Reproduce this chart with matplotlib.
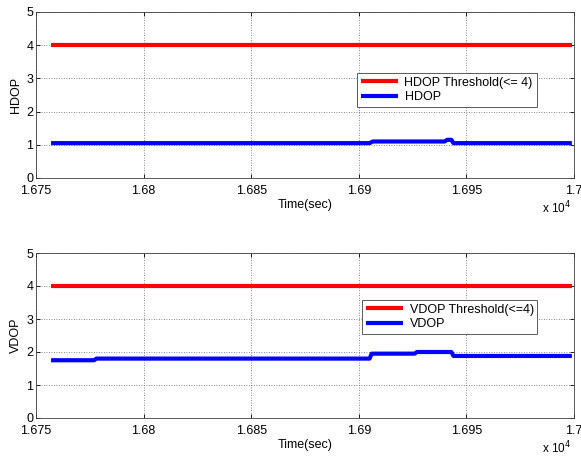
import matplotlib.pyplot as plt
from matplotlib.ticker import FixedLocator

plt.rcParams['font.family'] = ['Liberation Sans', 'DejaVu Sans']

# ── Data ──────────────────────────────────────────────────────────────────────
t_hdop = [16757, 16905, 16906.5, 16940, 16941, 16943, 16944, 16999]
hdop = [1.05, 1.05, 1.10, 1.10, 1.15, 1.15, 1.05, 1.05]

t_vdop = [16757, 16777, 16778, 16905, 16906, 16926, 16927, 16943, 16944, 16999]
vdop = [1.75, 1.75, 1.80, 1.80, 1.95, 1.95, 2.00, 2.00, 1.88, 1.88]

t_thr = [16757, 16999]
thr = [4, 4]

xticks = [16750, 16800, 16850, 16900, 16950, 17000]
xticklabels = ["1.675", "1.68", "1.685", "1.69", "1.695", "1.7"]
yticks = [0, 1, 2, 3, 4, 5]

panels = [
    ("HDOP", t_hdop, hdop, "HDOP Threshold(<= 4)", "HDOP"),
    ("VDOP", t_vdop, vdop, "VDOP Threshold(<=4)", "VDOP"),
]

fig = plt.figure(figsize=(5.81, 4.58), dpi=100)
W, H = 581, 458
boxes = [(36, 12, 574, 178), (36, 253, 574, 418)]
legend_anchor = [(357, 73), (362, 300)]

for (name, t, v, thr_lbl, lbl), (x0, y0, x1, y1), (lx, ly) in zip(panels, boxes, legend_anchor):
    ax = fig.add_axes([x0 / W, 1 - y1 / H, (x1 - x0) / W, (y1 - y0) / H])
    ax.plot(t_thr, thr, color="#ff0000", lw=3, label=thr_lbl, solid_capstyle="butt")
    ax.plot(t, v, color="#0000ff", lw=3, label=lbl, solid_capstyle="butt")
    ax.set_xlim(16750, 17000)
    ax.set_ylim(0, 5)
    ax.xaxis.set_major_locator(FixedLocator(xticks))
    ax.set_xticklabels(xticklabels)
    ax.set_yticks(yticks)
    ax.tick_params(direction="in", length=3, labelsize=9, pad=2,
                   top=True, right=True, width=0.6)
    ax.tick_params(axis="x", pad=5)
    ax.grid(True, linestyle=(0, (1, 2)), color="#606060", lw=0.6)
    for s in ax.spines.values():
        s.set_linewidth(0.6)
        s.set_color("#404040")
    ax.set_ylabel(name, fontsize=9, labelpad=3)
    ax.set_xlabel("Time(sec)", fontsize=9)
    ax.xaxis.set_label_coords(0.5, -0.125)
    ax.text(0.995, -0.18, r"x 10$^4$", transform=ax.transAxes, fontsize=8.5,
            ha="right", va="center")
    leg = ax.legend(loc="upper left", bbox_to_anchor=((lx - x0) / (x1 - x0), 1 - (ly - y0) / (y1 - y0)),
                    fontsize=9, fancybox=False, framealpha=1, edgecolor="#404040",
                    borderpad=0.3, labelspacing=0.2, handlelength=3.0, handletextpad=0.5,
                    borderaxespad=0)
    leg.get_frame().set_linewidth(0.6)

fig.savefig("out.png", dpi=100)
